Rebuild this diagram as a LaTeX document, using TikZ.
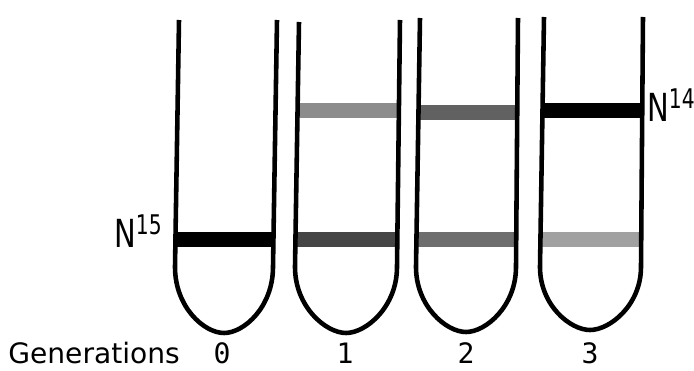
\documentclass[tikz,border=0pt]{standalone}
\usepackage{fontspec}
\setmainfont{DejaVu Sans}
\newfontfamily\digitfont{DejaVu Sans Mono}
\tikzset{
  wall/.style={line width=2.6pt, line join=round},
  gen/.style={font=\fontsize{16}{19}\selectfont, inner sep=0pt},
  isotope/.style={font=\fontsize{22}{25}\selectfont, inner sep=0pt, xscale=0.75}
}
\begin{document}
\begin{tikzpicture}[x=0.02cm, y=-0.02cm]
\useasboundingbox (0,0) rectangle (694,371);
% tube 0
\fill[black] (176,232.5) rectangle (275,247.5);
\draw[wall] (179,20) -- (175,267) .. controls (175,307) and (204,333) .. (224,333)
  .. controls (244,333) and (273,307) .. (273,267) -- (277,20);
% tube 1
\fill[black!45] (298,103.5) rectangle (399,118.5);
\fill[black!73] (297,232.5) rectangle (397,247.5);
\draw[wall] (299,22) -- (295,267) .. controls (295,307) and (326,333) .. (346,333)
  .. controls (366,333) and (397,307) .. (397,267) -- (400,20);
% tube 2
\fill[black!62] (419,105) rectangle (518,120);
\fill[black!57] (417,232.5) rectangle (517,247.5);
\draw[wall] (420,18) -- (416,267) .. controls (416,306) and (446,332) .. (466,332)
  .. controls (486,332) and (516,306) .. (516,267) -- (518,18);
% tube 3
\fill[black] (543,103.5) rectangle (642,118.5);
\fill[black!37] (541,232.5) rectangle (641,247.5);
\draw[wall] (544,17) -- (540,267) .. controls (540,305) and (570,330) .. (590,330)
  .. controls (610,330) and (641,305) .. (641,267) -- (643,17);
% labels
\node[isotope, anchor=base west] (n15) at (114,248) {N\textsuperscript{15}};
\node[isotope, anchor=base west] (n14) at (647,122) {N\textsuperscript{14}};
\node[gen, anchor=base west] (gens) at (8,364) {Generations};
\node[gen, anchor=base] (g0) at (222,364) {\digitfont 0};
\node[gen, anchor=base] (g1) at (345,364) {\digitfont 1};
\node[gen, anchor=base] (g2) at (466,364) {\digitfont 2};
\node[gen, anchor=base] (g3) at (590,364) {\digitfont 3};
\end{tikzpicture}
\end{document}
